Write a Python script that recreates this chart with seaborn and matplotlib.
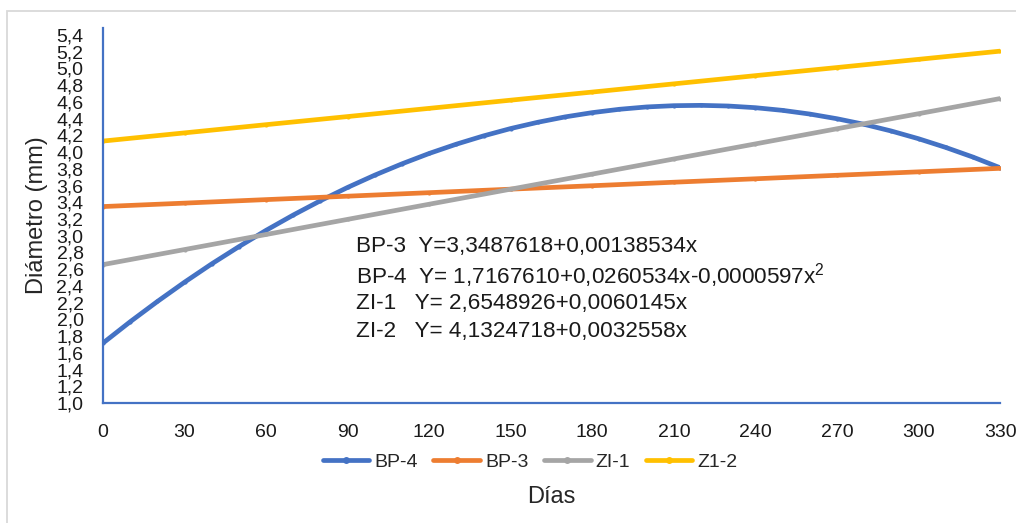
import pandas as pd
import numpy as np
import seaborn as sns
import matplotlib.pyplot as plt
from matplotlib.patches import Rectangle

# values (diameter in mm vs days)
dias_bp4 = [0, 10, 20, 30, 40, 50, 60, 70, 80, 90, 100, 110, 120, 130, 140, 150, 160,
            170, 180, 190, 200, 210, 220, 230, 240, 250, 260, 270, 280, 290, 300, 310, 320, 330]
bp4 = [1.717, 1.972, 2.214, 2.445, 2.664, 2.870, 3.065, 3.248, 3.419, 3.578, 3.725, 3.860,
       3.984, 4.095, 4.194, 4.282, 4.357, 4.421, 4.472, 4.512, 4.540, 4.555, 4.559, 4.551,
       4.531, 4.499, 4.455, 4.399, 4.332, 4.252, 4.160, 4.056, 3.941, 3.813]

dias = [0, 30, 60, 90, 120, 150, 180, 210, 240, 270, 300, 330]
bp3 = [3.349, 3.390, 3.432, 3.473, 3.515, 3.557, 3.598, 3.640, 3.681, 3.723, 3.764, 3.806]
zi1 = [2.655, 2.835, 3.015, 3.196, 3.377, 3.557, 3.737, 3.918, 4.098, 4.279, 4.459, 4.640]
z12 = [4.132, 4.230, 4.328, 4.425, 4.523, 4.621, 4.718, 4.816, 4.914, 5.011, 5.109, 5.207]

series = ["BP-4", "BP-3", "ZI-1", "Z1-2"]
colors = ["#4472C4", "#ED7D31", "#A5A5A5", "#FFC000"]

ecuaciones = [
    "BP-3  Y=3,3487618+0,00138534x",
    "BP-4  Y= 1,7167610+0,0260534x-0,0000597x$^{2}$",
    "ZI-1   Y= 2,6548926+0,0060145x",
    "ZI-2   Y= 4,1324718+0,0032558x",
]

df = pd.concat([
    pd.DataFrame({"dia": dias_bp4, "diam": bp4, "serie": "BP-4"}),
    pd.DataFrame({"dia": dias, "diam": bp3, "serie": "BP-3"}),
    pd.DataFrame({"dia": dias, "diam": zi1, "serie": "ZI-1"}),
    pd.DataFrame({"dia": dias, "diam": z12, "serie": "Z1-2"}),
])

sns.set_style("white")
plt.rcParams["font.family"] = ["Liberation Sans", "DejaVu Sans"]
plt.rcParams["mathtext.fontset"] = "custom"
plt.rcParams["mathtext.rm"] = "Liberation Sans"
plt.rcParams["mathtext.default"] = "rm"

fig = plt.figure(figsize=(10.16, 5.23), dpi=100)
ax = fig.add_axes([0.1014, 0.2294, 0.8829, 0.7171])

sns.lineplot(data=df, x="dia", y="diam", hue="serie", hue_order=series,
             palette=colors, linewidth=3.4, marker="o", markersize=3,
             markeredgewidth=0, ax=ax)

ax.set_xlim(0, 330)
ax.set_ylim(1.0, 5.484)
ax.set_xticks(np.arange(0, 331, 30))
ax.set_yticks(np.arange(1.0, 5.41, 0.2))
ax.set_yticklabels([f"{v:.1f}".replace(".", ",") for v in np.arange(1.0, 5.41, 0.2)])
ax.tick_params(axis="both", length=0, colors="#1a1a1a")
ax.tick_params(axis="x", labelsize=14, pad=15)
ax.tick_params(axis="y", labelsize=14, pad=14)

for s in ["top", "right"]:
    ax.spines[s].set_visible(False)
for s in ["left", "bottom"]:
    ax.spines[s].set_color("#4472C4")
    ax.spines[s].set_linewidth(1.6)

ax.set_xlabel("Días", fontsize=17)
ax.set_ylabel("Diámetro (mm)", fontsize=17)
ax.xaxis.set_label_coords(0.5, -0.251)
ax.xaxis.label.set_va("center")
ax.yaxis.set_label_coords(-0.0736, 0.5)
ax.yaxis.label.set_va("center")

y0 = 2.866
for i, t in enumerate(ecuaciones):
    ax.text(93, y0 - i * 0.337, t, fontsize=16.2, color="#1a1a1a", va="center")

leg = ax.legend(loc="center", bbox_to_anchor=(0.476, -0.157), ncol=4,
                frameon=False, fontsize=14, handlelength=2.4, handletextpad=0.25,
                columnspacing=0.8)
for h in leg.get_lines():
    h.set_markersize(5)

fig.patches.append(Rectangle((7 / 1016, -0.1), 1.2, 1 - 11 / 523 + 0.1,
                             transform=fig.transFigure, fill=False,
                             edgecolor="#D9D9D9", linewidth=1.3))

fig.savefig("out.png", dpi=100)
